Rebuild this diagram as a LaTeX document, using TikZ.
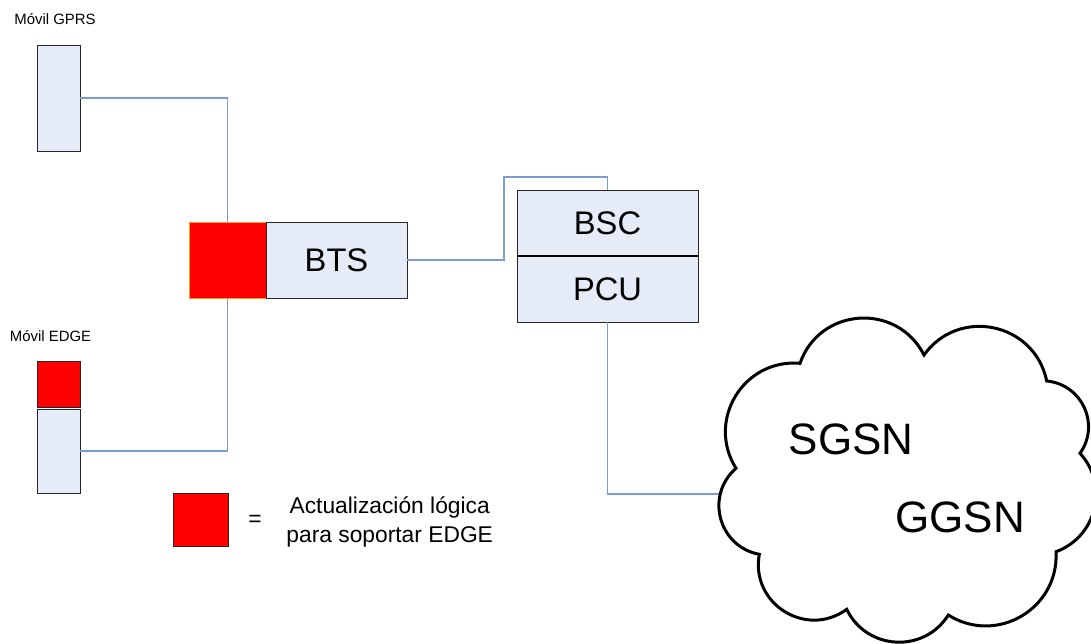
\documentclass[tikz,border=0pt]{standalone}
\usepackage{fontspec}
\setmainfont{Liberation Sans}
\definecolor{boxfill}{RGB}{230,236,247}
\definecolor{linkblue}{RGB}{125,155,210}
\definecolor{btsedge}{RGB}{240,160,40}

\begin{document}
\begin{tikzpicture}[x=0.75pt,y=-0.75pt,
  unit/.style={draw=black!85, fill=boxfill, line width=0.75pt, inner sep=0pt, outer sep=0pt},
  upgrade/.style={draw=black!85, fill=red, line width=0.75pt, inner sep=0pt, outer sep=0pt},
  link/.style={draw=linkblue, line width=0.8pt},
  tag/.style={font=\fontsize{11.2}{13}\selectfont, anchor=base},
  bigtag/.style={font=\fontsize{24.5}{28}\selectfont},
  cloudtag/.style={font=\fontsize{33}{38}\selectfont, anchor=base},
  legtag/.style={font=\fontsize{17.1}{22}\selectfont}]

\useasboundingbox (0,0) rectangle (1091,643);

% moviles
\node[tag] (gprslbl) at (55,24) {Móvil GPRS};
\node[unit, minimum width=32.25pt, minimum height=79.5pt] (gprs) at (58.5,98) {};

\node[tag] (edgelbl) at (50.5,341) {Móvil EDGE};
\node[upgrade, minimum width=32.25pt, minimum height=34.5pt] (edgeupd) at (58.5,384) {};
\node[unit, minimum width=32.25pt, minimum height=63pt] (edgemob) at (58.5,451) {};

% BTS
\node[upgrade, draw=btsedge, minimum width=57.75pt, minimum height=57pt] (btsupd) at (227.5,260) {};
\node[unit, bigtag, minimum width=105.75pt, minimum height=57pt] (bts) at (336.5,260) {BTS};

% BSC / PCU
\node[unit, bigtag, minimum width=135.75pt, minimum height=49.5pt] (bsc) at (607.5,223) {BSC};
\node[unit, bigtag, minimum width=135.75pt, minimum height=49.5pt] (pcu) at (607.5,289) {PCU};
\draw[line width=1.4pt] (bsc.south west) -- (bsc.south east);

% enlaces
\coordinate (bscjog) at (504,177);
\coordinate (cloudin) at (721,494);
\draw[link] (gprs.east) -| (btsupd.north);
\draw[link] (edgemob.east) -| (btsupd.south);
\draw[link] (bts.east) -| (bscjog) -| (bsc.north);
\draw[link] (pcu.south) |- (cloudin);

% nube
\draw[line width=2.25pt]
(736,468.3) .. controls (705.9,420.3) and (743.5,358.5) .. (800,363.3)
 .. controls (819.6,307.1) and (897.0,302.0) .. (924,355)
 .. controls (958.7,306.5) and (1034.6,322.5) .. (1046.7,381)
 .. controls (1082.0,384.3) and (1100.5,424.4) .. (1080,453.3)
 .. controls (1109.3,485.3) and (1096.7,536.7) .. (1056,551.7)
 .. controls (1059.1,608.7) and (996.6,645.4) .. (948.3,615)
 .. controls (924.0,653.7) and (866.6,650.4) .. (846.7,609.3)
 .. controls (806.2,638.9) and (750.2,603.7) .. (759.3,554.3)
 .. controls (718.6,546.7) and (704.7,495.5) .. cycle;
\node[cloudtag] (sgsn) at (851,454) {SGSN};
\node[cloudtag] (ggsn) at (960,532) {GGSN};

% leyenda
\node[upgrade, minimum width=41.25pt, minimum height=39.75pt] (legupd) at (200.5,519.5) {};
\node[legtag] (legeq) at (255,521) {=};
\node[legtag, align=center] (legtxt) at (389.7,522) {Actualización lógica\\para soportar EDGE};

\end{tikzpicture}
\end{document}
